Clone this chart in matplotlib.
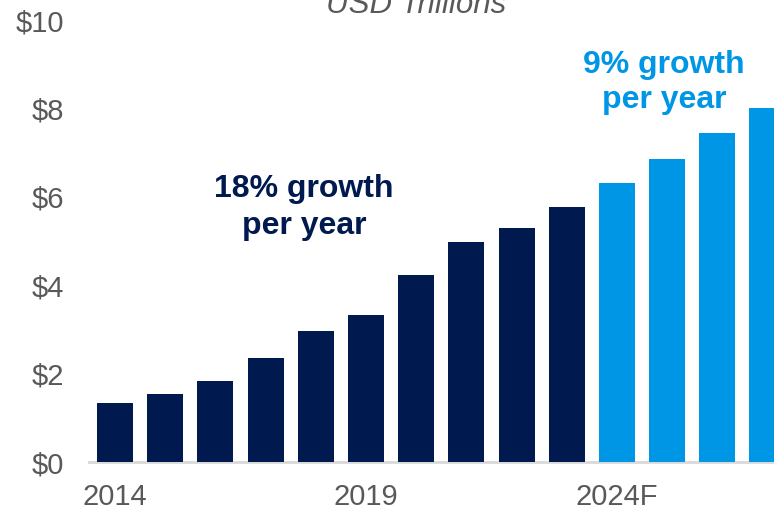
import matplotlib
matplotlib.use("Agg")
import matplotlib.pyplot as plt

plt.rcParams['font.family'] = ['Liberation Sans', 'DejaVu Sans']

years = ['2014', '2015', '2016', '2017', '2018', '2019', '2020',
         '2021', '2022', '2023', '2024F', '2025F', '2026F', '2027F']
values = [1.33, 1.54, 1.83, 2.35, 2.96, 3.33, 4.23,
          4.98, 5.29, 5.77, 6.31, 6.86, 7.44, 8.01]
forecast = [False] * 10 + [True] * 4
shown_labels = {'2014', '2019', '2024F'}
yticks = [0, 2, 4, 6, 8, 10]

NAVY = '#00194F'
BLUE = '#0096E6'
GREY = '#595959'

fig = plt.figure(figsize=(7.74, 5.12), dpi=100)
ax = fig.add_axes([89 / 774, 50 / 512, 1 - 89 / 774, (462 - 20) / 512])

x = list(range(len(years)))
colors = [BLUE if f else NAVY for f in forecast]
ax.bar(x, values, width=0.717, color=colors, zorder=3)

ax.set_xlim(-0.518, 13.13)
ax.set_ylim(0, 10)
ax.set_yticks(yticks)
ax.set_yticklabels([f'${v}' for v in yticks])
ax.set_xticks(x)
ax.set_xticklabels([y if y in shown_labels else '' for y in years])

for s in ['top', 'right', 'left']:
    ax.spines[s].set_visible(False)
ax.spines['bottom'].set_color('#D9D9D9')
ax.spines['bottom'].set_linewidth(2)
ax.tick_params(axis='both', length=0, labelsize=21, colors=GREY)
ax.tick_params(axis='y', pad=18)
ax.tick_params(axis='x', pad=15)

# growth callouts, one text per line
ax.text(3.77, 5.99, '18% growth', ha='center', va='baseline',
        fontsize=23, fontweight='bold', color=NAVY)
ax.text(3.77, 5.15, 'per year', ha='center', va='baseline',
        fontsize=23, fontweight='bold', color=NAVY)
ax.text(10.94, 8.80, '9% growth', ha='center', va='baseline',
        fontsize=23, fontweight='bold', color=BLUE)
ax.text(10.94, 8.01, 'per year', ha='center', va='baseline',
        fontsize=23, fontweight='bold', color=BLUE)

fig.text(416 / 774, 1 - 13 / 512, 'USD Trillions', ha='center', va='baseline',
         fontsize=22.5, style='italic', color=GREY)

fig.savefig('out.png', dpi=100)
plt.close(fig)
